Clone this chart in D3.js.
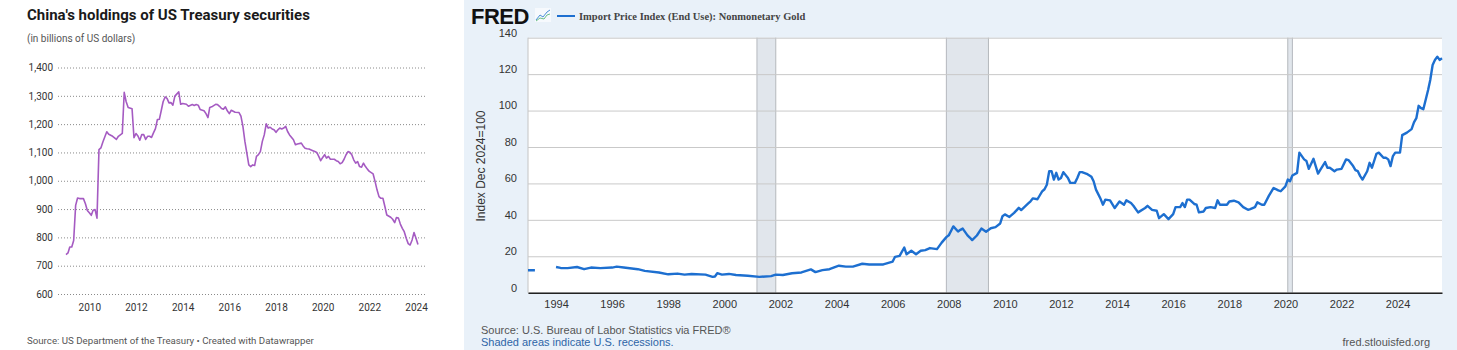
<!DOCTYPE html>
<html>
<head>
<title>China treasuries and gold import prices</title>
<style>
  body { margin: 0; background: #fff; }
  svg { display: block; }
</style>
</head>
<body>
<script src="https://cdnjs.cloudflare.com/ajax/libs/d3/7.8.5/d3.min.js"></script>
<script>
// ---- left chart: China's holdings of US Treasury securities (bn USD)
var chinaDates = [
  "2009-01","2009-02","2009-03","2009-04","2009-05","2009-06","2009-07","2009-08","2009-10","2009-11","2009-12",
  "2010-01","2010-02","2010-03","2010-04","2010-05","2010-06","2010-07","2010-08","2010-10","2010-11",
  "2011-01","2011-03","2011-04","2011-06","2011-07","2011-08","2011-09","2011-11","2011-12",
  "2012-01","2012-02","2012-03","2012-04","2012-05","2012-06","2012-07","2012-08","2012-09","2012-10","2012-11","2012-12",
  "2013-01","2013-02","2013-03","2013-04","2013-05","2013-06","2013-07","2013-08","2013-09","2013-11","2013-12",
  "2014-01","2014-03","2014-04","2014-06","2014-07","2014-08","2014-09","2014-10","2014-12",
  "2015-01","2015-02","2015-03","2015-04","2015-06","2015-07","2015-08","2015-09","2015-10","2015-11","2015-12",
  "2016-01","2016-02","2016-04","2016-06","2016-07","2016-08","2016-09","2016-11","2016-12",
  "2017-01","2017-02","2017-03","2017-04","2017-05","2017-06","2017-07","2017-08","2017-09","2017-10","2017-11","2017-12",
  "2018-01","2018-02","2018-03","2018-04","2018-05","2018-06","2018-07","2018-08","2018-10","2018-11","2018-12",
  "2019-02","2019-03","2019-04","2019-05","2019-06","2019-08","2019-09","2019-10","2019-11","2019-12",
  "2020-01","2020-02","2020-03","2020-04","2020-05","2020-07","2020-08","2020-09","2020-10","2020-11","2020-12",
  "2021-01","2021-02","2021-03","2021-04","2021-05","2021-06","2021-07","2021-08","2021-09","2021-10","2021-11","2021-12",
  "2022-01","2022-03","2022-04","2022-05","2022-06","2022-07","2022-08","2022-09","2022-10","2022-12",
  "2023-01","2023-02","2023-03","2023-04","2023-05","2023-06","2023-07","2023-08","2023-09","2023-10","2023-11","2023-12",
  "2024-01","2024-02"
];
var chinaValues = [
  739,745,766,766,789,913,939,937,937,919,895,
  887,878,896,898,868,1110,1116,1137,1173,1164,
  1157,1146,1157,1167,1312,1279,1259,1254,1152,
  1167,1158,1143,1163,1163,1146,1157,1157,1153,1169,1184,1216,
  1217,1249,1279,1296,1291,1275,1276,1267,1299,1314,1270,
  1273,1270,1263,1269,1266,1269,1267,1252,1247,
  1237,1223,1259,1261,1270,1269,1263,1255,1253,1261,1247,
  1237,1249,1242,1241,1228,1192,1139,1056,1050,
  1056,1054,1086,1092,1103,1139,1162,1201,1186,1189,1183,1180,
  1171,1180,1186,1183,1186,1192,1174,1162,1145,1127,1130,
  1133,1123,1115,1113,1112,1106,1103,1100,1086,1071,
  1082,1092,1080,1086,1076,1076,1071,1068,1060,1064,1076,
  1092,1103,1101,1092,1074,1062,1068,1050,1048,1062,1050,1041,
  1033,1024,997,968,944,938,938,909,879,871,
  864,852,870,868,847,832,820,797,778,773,791,817,
  797,775
];
var chinaYTicks = [600, 700, 800, 900, 1000, 1100, 1200, 1300, 1400];
var chinaXTicks = ["2010", "2012", "2014", "2016", "2018", "2020", "2022", "2024"];

// ---- right chart: FRED Import Price Index (End Use): Nonmonetary Gold
var goldDates = [
  "1993-01","1993-02","1993-03","1993-04","1993-05",
  "1994-01","1994-03","1994-06","1994-10","1995-01","1995-04","1995-08",
  "1996-01","1996-03","1996-06","1996-12","1997-03","1997-09",
  "1998-01","1998-05","1998-08","1998-11","1999-05","1999-08","1999-09","1999-10","1999-12",
  "2000-03","2000-06","2000-11","2001-04","2001-09","2001-11",
  "2002-02","2002-06","2002-10","2003-02","2003-04","2003-07","2003-10",
  "2004-02","2004-05","2004-08","2004-12","2005-03","2005-09",
  "2006-01","2006-02","2006-04","2006-06","2006-07","2006-09","2006-11",
  "2007-01","2007-03","2007-05","2007-08","2007-10","2007-12",
  "2008-01","2008-02","2008-03","2008-05","2008-06","2008-07","2008-09","2008-10","2008-11",
  "2009-01","2009-03","2009-05","2009-07","2009-09","2009-11","2009-12",
  "2010-01","2010-03","2010-05","2010-07","2010-08","2010-11","2010-12",
  "2011-01","2011-03","2011-04","2011-05","2011-06","2011-07","2011-08","2011-09","2011-10","2011-11","2011-12",
  "2012-01","2012-02","2012-04","2012-05","2012-07","2012-08","2012-09","2012-10","2012-12",
  "2013-02","2013-03","2013-04","2013-06","2013-07","2013-08","2013-10","2013-12",
  "2014-02","2014-04","2014-05","2014-07","2014-08","2014-10",
  "2015-01","2015-02","2015-04","2015-06","2015-07","2015-09","2015-11",
  "2016-01","2016-02","2016-04","2016-05","2016-06","2016-07","2016-08","2016-10","2016-11","2016-12",
  "2017-02","2017-03","2017-05","2017-07","2017-08","2017-09","2017-12",
  "2018-01","2018-03","2018-05","2018-07","2018-09","2018-10","2018-12",
  "2019-01","2019-03","2019-04","2019-06","2019-08","2019-10","2019-11",
  "2020-01","2020-02","2020-03","2020-04","2020-06","2020-07","2020-09","2020-10","2020-11",
  "2021-01","2021-03","2021-04","2021-06","2021-07","2021-08","2021-10","2021-11",
  "2022-01","2022-03","2022-04","2022-06","2022-07","2022-08","2022-09","2022-10","2022-12",
  "2023-01","2023-02","2023-04","2023-05","2023-07","2023-08","2023-09","2023-10","2023-11","2023-12",
  "2024-02","2024-03","2024-05","2024-07","2024-08","2024-09","2024-10","2024-11","2024-12",
  "2025-02","2025-03","2025-04","2025-05","2025-06","2025-07","2025-08"
];
var goldValues = [
  12.3,12.3,12.3,12.3,null,
  14.1,13.6,13.5,14.1,12.9,13.8,13.5,
  13.8,14.3,13.8,12.9,12.0,11.1,
  10.1,10.5,9.9,10.3,9.9,8.7,8.9,10.7,9.9,
  10.3,9.7,9.3,8.7,9.1,9.9,
  9.7,10.7,11.1,12.8,11.3,12.4,12.9,
  14.8,14.3,14.3,15.9,15.5,15.5,
  17.1,19.7,20.2,24.8,21.1,23.0,21.1,
  23.0,23.4,24.5,23.9,27.5,30.5,
  31.5,34.0,36.4,33.6,34.5,35.2,31.5,30.3,28.9,
  31.4,35.2,33.5,35.4,36.0,38.0,42.0,
  43.0,41.6,43.8,46.6,45.4,49.0,50.2,
  51.8,51.3,53.5,55.6,56.8,59.3,66.7,66.7,62.1,65.8,62.1,
  63.0,66.2,63.0,60.3,60.3,63.0,66.2,66.2,65.3,
  63.6,61.2,56.6,51.4,48.3,51.1,50.7,46.5,
  50.1,48.3,50.7,49.2,47.7,44.1,
  46.5,47.7,45.5,45.0,40.9,43.1,40.4,
  43.1,47.0,47.0,49.2,47.0,51.1,51.1,48.7,48.3,44.1,
  44.6,46.5,47.0,46.5,50.7,48.3,48.3,
  50.1,50.5,49.6,47.0,45.5,45.9,47.0,
  49.6,48.3,48.3,53.3,57.5,56.2,55.7,
  58.4,62.1,61.2,64.3,65.8,76.9,73.2,72.3,68.0,
  73.5,65.4,67.6,71.7,68.6,68.6,66.7,67.6,
  68.0,73.2,72.8,69.5,67.3,66.7,64.0,62.1,66.7,
  71.3,68.6,76.3,76.9,74.1,74.1,73.2,69.5,75.0,76.9,
  76.9,86.5,87.9,89.8,93.5,95.8,102.6,101.3,100.7,
  111.3,116.8,125.0,127.8,129.6,127.8,128.7
];
var recessionStarts = ["2001-03", "2007-12", "2020-02"];
var recessionEnds = ["2001-11", "2009-06", "2020-04"];
var goldYTicks = [0, 20, 40, 60, 80, 100, 120, 140];

var width = 1457, height = 350;
var parseMonth = d3.timeParse("%Y-%m");
var parseYear = d3.timeParse("%Y");
var dwFont = "Roboto, 'Noto Sans', sans-serif";
var fredFont = "'Liberation Sans', Arial, sans-serif";

var svg = d3.select("body").append("svg")
  .attr("width", width)
  .attr("height", height);

// ================= Datawrapper chart =================
var dw = svg.append("g").attr("font-family", dwFont);

dw.append("text")
  .attr("x", 27).attr("y", 20)
  .attr("font-size", 15).attr("font-weight", 700).attr("fill", "#1a1a1a")
  .text("China's holdings of US Treasury securities");

dw.append("text")
  .attr("x", 27).attr("y", 42)
  .attr("font-size", 10).attr("fill", "#555")
  .text("(in billions of US dollars)");

var xL = d3.scaleTime()
  .domain([parseYear("2009"), parseYear("2024")])
  .range([66, 416]);
var yL = d3.scaleLinear()
  .domain([600, 1400])
  .range([294, 67.5]);

var yAxisL = dw.append("g")
  .attr("transform", "translate(58,0)")
  .call(d3.axisLeft(yL).tickValues(chinaYTicks).tickSize(-367).tickPadding(5).tickFormat(d3.format(",")));
yAxisL.select(".domain").remove();
yAxisL.selectAll(".tick line")
  .attr("stroke", "#8a8a8a")
  .attr("stroke-dasharray", "1,2");
yAxisL.selectAll(".tick text")
  .attr("font-size", 10).attr("fill", "#333").attr("font-family", dwFont);

var xAxisL = dw.append("g")
  .attr("transform", "translate(0,298)")
  .call(d3.axisBottom(xL).tickValues(chinaXTicks.map(parseYear)).tickSize(0).tickPadding(6).tickFormat(d3.timeFormat("%Y")));
xAxisL.select(".domain").remove();
xAxisL.selectAll(".tick text")
  .attr("font-size", 10).attr("fill", "#333").attr("font-family", dwFont);

var chinaData = chinaDates.map(function(d, i) { return { date: parseMonth(d), value: chinaValues[i] }; });

dw.append("path")
  .datum(chinaData)
  .attr("fill", "none")
  .attr("stroke", "#a55bc2")
  .attr("stroke-width", 1.6)
  .attr("stroke-linejoin", "round")
  .attr("d", d3.line()
    .x(function(d) { return xL(d.date); })
    .y(function(d) { return yL(d.value); }));

dw.append("text")
  .attr("x", 27).attr("y", 344)
  .attr("font-size", 9.7).attr("fill", "#555")
  .text("Source: US Department of the Treasury \u2022 Created with Datawrapper");

// ================= FRED chart =================
var fred = svg.append("g").attr("font-family", fredFont);
var plotL = 528, plotR = 1442;

fred.append("rect")
  .attr("x", 464).attr("y", 0)
  .attr("width", width - 464).attr("height", height)
  .attr("fill", "#e9f1f9");

// logo + legend
fred.append("text")
  .attr("x", 471).attr("y", 24)
  .attr("font-size", 22).attr("font-weight", 700).attr("letter-spacing", -0.5).attr("fill", "#111")
  .text("FRED");
var icon = fred.append("g").attr("transform", "translate(535,8)");
icon.append("rect").attr("width", 16).attr("height", 14).attr("fill", "#fff").attr("opacity", 0.6);
icon.append("polyline").attr("points", "1,12 5,7 8,9 12,4 15,2")
  .attr("fill", "none").attr("stroke", "#4a90d9").attr("stroke-width", 1);
icon.append("polyline").attr("points", "1,13 5,10 9,11 12,7 15,6")
  .attr("fill", "none").attr("stroke", "#6cbf8a").attr("stroke-width", 1);

fred.append("line")
  .attr("x1", 557).attr("x2", 575).attr("y1", 16).attr("y2", 16)
  .attr("stroke", "#1d6fd0").attr("stroke-width", 2);
fred.append("text")
  .attr("x", 579).attr("y", 19.5)
  .attr("font-family", "'Liberation Serif', 'DejaVu Serif', serif")
  .attr("font-size", 10.5).attr("font-weight", 700).attr("fill", "#444")
  .text("Import Price Index (End Use): Nonmonetary Gold");

var xR = d3.scaleTime()
  .domain([parseMonth("1993-01"), parseMonth("2025-08")])
  .range([plotL, plotR]);
var yR = d3.scaleLinear()
  .domain([0, 140])
  .range([292.7, 37.7]);

fred.append("rect")
  .attr("x", plotL).attr("y", yR(140))
  .attr("width", plotR - plotL).attr("height", yR(0) - yR(140))
  .attr("fill", "#fff");

// recession bands
var recessions = recessionStarts.map(function(d, i) { return { start: parseMonth(d), end: parseMonth(recessionEnds[i]) }; });
var bands = fred.selectAll(".recession")
  .data(recessions)
  .enter().append("g")
  .attr("class", "recession");
bands.append("rect")
  .attr("x", function(d) { return xR(d.start); })
  .attr("y", yR(140))
  .attr("width", function(d) { return xR(d.end) - xR(d.start); })
  .attr("height", yR(0) - yR(140))
  .attr("fill", "#e1e6ec");
bands.append("line")
  .attr("x1", function(d) { return xR(d.start); }).attr("x2", function(d) { return xR(d.start); })
  .attr("y1", yR(140)).attr("y2", yR(0))
  .attr("stroke", "#b4b8bd").attr("stroke-width", 1);
bands.append("line")
  .attr("x1", function(d) { return xR(d.end); }).attr("x2", function(d) { return xR(d.end); })
  .attr("y1", yR(140)).attr("y2", yR(0))
  .attr("stroke", "#b4b8bd").attr("stroke-width", 1);

var yAxisR = fred.append("g")
  .attr("transform", "translate(" + plotL + ",0)")
  .call(d3.axisLeft(yR).tickValues(goldYTicks).tickSize(-(plotR - plotL)).tickPadding(11));
yAxisR.select(".domain").attr("stroke", "#c4c4c4").attr("d", "M0," + yR(140) + "V" + yR(0));
yAxisR.selectAll(".tick line").attr("stroke", "#c9c9c9").attr("stroke-width", 1);
yAxisR.selectAll(".tick text")
  .attr("font-size", 11).attr("fill", "#333").attr("dy", "-0.15em")
  .attr("font-family", fredFont);

fred.append("text")
  .attr("transform", "translate(485,166) rotate(-90)")
  .attr("text-anchor", "middle")
  .attr("font-size", 12).attr("fill", "#333")
  .text("Index Dec 2024=100");

var xAxisR = fred.append("g")
  .attr("transform", "translate(0," + yR(0) + ")")
  .call(d3.axisBottom(xR).ticks(d3.timeYear.every(2)).tickSize(0).tickPadding(8).tickFormat(d3.timeFormat("%Y")));
xAxisR.select(".domain").attr("stroke", "#222").attr("stroke-width", 1.5);
xAxisR.selectAll(".tick text")
  .attr("font-size", 11).attr("fill", "#333")
  .attr("font-family", fredFont);

var goldData = goldDates.map(function(d, i) { return { date: parseMonth(d), value: goldValues[i] }; });

fred.append("path")
  .datum(goldData)
  .attr("fill", "none")
  .attr("stroke", "#1d6fd0")
  .attr("stroke-width", 2.4)
  .attr("stroke-linejoin", "round")
  .attr("d", d3.line()
    .defined(function(d) { return d.value != null; })
    .x(function(d) { return xR(d.date); })
    .y(function(d) { return yR(d.value); }));

fred.append("text")
  .attr("x", 481).attr("y", 334)
  .attr("font-size", 11).attr("fill", "#555")
  .text("Source: U.S. Bureau of Labor Statistics via FRED\u00ae");
fred.append("text")
  .attr("x", 481).attr("y", 345.5)
  .attr("font-size", 11).attr("fill", "#2f65a7")
  .text("Shaded areas indicate U.S. recessions.");
fred.append("text")
  .attr("x", 1430).attr("y", 346)
  .attr("text-anchor", "end")
  .attr("font-size", 11).attr("fill", "#555")
  .text("fred.stlouisfed.org");
</script>
</body>
</html>
